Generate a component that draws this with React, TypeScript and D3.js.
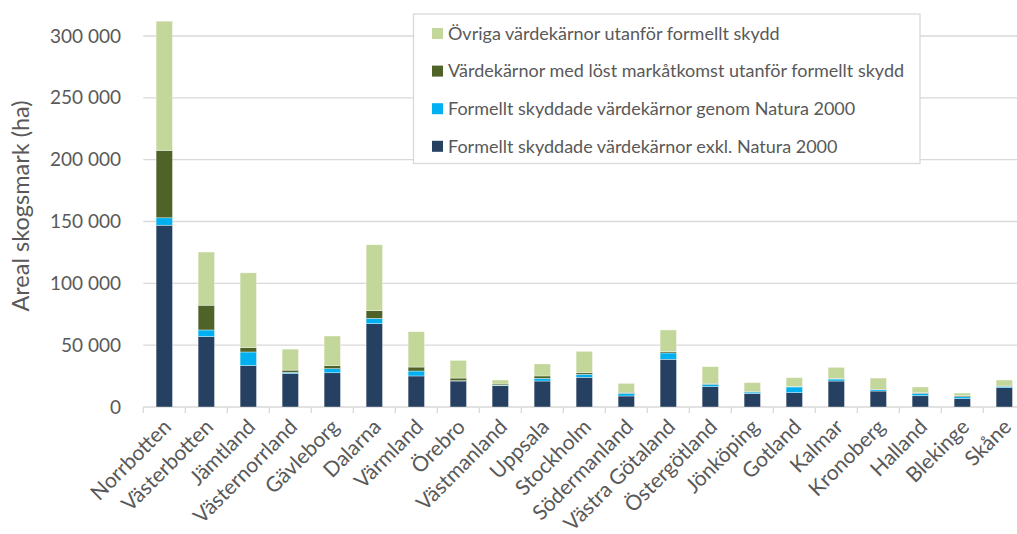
import React from "react";
import * as d3 from "d3";

const categories = [
  "Norrbotten", "Västerbotten", "Jämtland", "Västernorrland", "Gävleborg", "Dalarna",
  "Värmland", "Örebro", "Västmanland", "Uppsala", "Stockholm", "Södermanland",
  "Västra Götaland", "Östergötland", "Jönköping", "Gotland", "Kalmar", "Kronoberg",
  "Halland", "Blekinge", "Skåne",
];
const exklNatura = [147000, 57000, 33500, 27000, 27700, 67400, 25100, 21000, 17200, 21000, 24000, 8900, 38600, 16400, 11000, 11600, 21000, 12900, 9100, 6700, 15600];
const natura = [6000, 5300, 11000, 1000, 3300, 4300, 4000, 300, 500, 2200, 2400, 2200, 5100, 1900, 1100, 4600, 1600, 1100, 1900, 1600, 1100];
const lostMark = [54500, 20000, 3500, 1800, 2400, 6200, 3200, 2100, 900, 1900, 1300, 800, 1000, 800, 600, 300, 300, 300, 600, 800, 300];
const ovriga = [104500, 43000, 60500, 17000, 24000, 53300, 28600, 14300, 3200, 9700, 17300, 7200, 17600, 13500, 7000, 7200, 9200, 9100, 4600, 2200, 4800];
const yTicks = [0, 50000, 100000, 150000, 200000, 250000, 300000];

const seriesNames = [
  "Formellt skyddade värdekärnor exkl. Natura 2000",
  "Formellt skyddade värdekärnor genom Natura 2000",
  "Värdekärnor med löst markåtkomst utanför formellt skydd",
  "Övriga värdekärnor utanför formellt skydd",
];
const seriesValues = [exklNatura, natura, lostMark, ovriga];
const seriesColors = ["#264061", "#00b0f0", "#4f6228", "#c4d79b"];

const W = 1017;
const H = 534;
const FONT = "Lato, 'Open Sans', sans-serif";
const TEXT = "#595959";
const GRID = "#d9d9d9";

export default function App() {
  const x = d3.scaleBand<string>().domain(categories).range([143.3, 1025.3]).paddingInner(0.61).paddingOuter(0.305);
  const y = d3.scaleLinear().domain([0, 300000]).range([407, 36]);
  const loc = d3.formatLocale({ decimal: ",", thousands: " ", grouping: [3], currency: ["", " kr"] });
  const fmt = loc.format(",d");

  const rows = categories.map((c, i) => {
    const r: any = { cat: c };
    seriesNames.forEach((s, k) => (r[s] = seriesValues[k][i]));
    return r;
  });
  const stacked = d3.stack<any>().keys(seriesNames)(rows);

  const step = x.step();
  const x0 = 143.3;
  const legendOrder = [3, 2, 1, 0];

  return (
    <svg width={W} height={H} style={{ position: "absolute", left: 0, top: 0, background: "#fff" }} fontFamily={FONT}>
      {yTicks.map((t) => (
        <g key={t}>
          <line x1={x0} x2={W} y1={y(t)} y2={y(t)} stroke={GRID} strokeWidth={1.3} />
          <text x={121} y={y(t)} dy="0.35em" textAnchor="end" fontSize={19} fill={TEXT}>{fmt(t)}</text>
        </g>
      ))}
      {d3.range(categories.length + 1).map((i) => (
        <line key={i} x1={x0 + i * step} x2={x0 + i * step} y1={y(0)} y2={y(0) + 6} stroke={GRID} strokeWidth={1.3} />
      ))}
      {stacked.map((s, k) => (
        <g key={s.key} fill={seriesColors[k]}>
          {s.map((d, i) => (
            <rect key={i} x={x(categories[i])} width={x.bandwidth()} y={y(d[1])} height={Math.max(0, y(d[0]) - y(d[1]))} stroke="#ffffff" strokeOpacity={0.6} strokeWidth={0.6} />
          ))}
        </g>
      ))}
      {categories.map((c) => {
        const cx = (x(c) as number) + x.bandwidth() / 2 + 3;
        return (
          <text key={c} transform={`translate(${cx},${423}) rotate(-45)`} textAnchor="end" dy="0.35em" fontSize={21} fill={TEXT}>{c}</text>
        );
      })}
      <text transform={`translate(29,206) rotate(-90)`} textAnchor="middle" fontSize={23.5} fill={TEXT}>Areal skogsmark (ha)</text>
      <g>
        <rect x={413.5} y={14} width={506.5} height={149.5} fill="#fff" stroke={GRID} strokeWidth={1.3} />
        {legendOrder.map((k, j) => (
          <g key={k} transform={`translate(432,${33.5 + j * 37.6})`}>
            <rect x={0} y={-5.5} width={11} height={11} fill={seriesColors[k]} />
            <text x={16} y={0} dy="0.35em" fontSize={18} fill={TEXT}>{seriesNames[k]}</text>
          </g>
        ))}
      </g>
    </svg>
  );
}
